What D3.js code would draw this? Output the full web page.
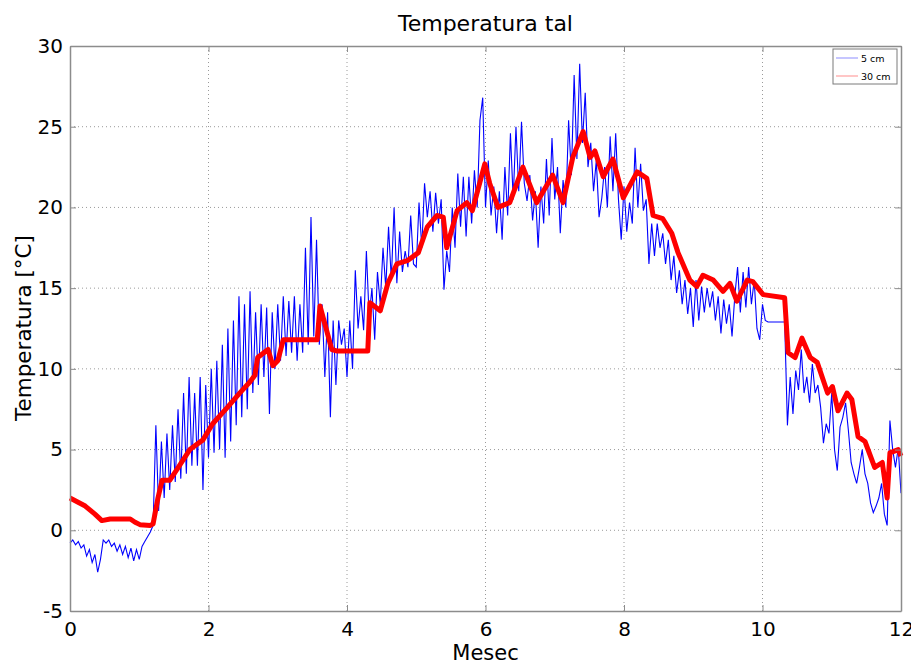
<!DOCTYPE html>
<html>
<head>
<meta charset="utf-8">
<script src="https://d3js.org/d3.v7.min.js"></script>
<style>
  body { margin: 0; background: #fff; }
  text { font-family: "DejaVu Sans", sans-serif; fill: #000; }
</style>
</head>
<body>
<script>
// 5 cm readings, one every 0.04 month starting at month 0 (one row per month)
const monthStart = 0;
const monthStep = 0.04;
const temp5cm = [
  -0.8, -0.6, -0.9, -0.7, -1.1, -0.9, -1.6, -1.2, -2.0, -1.5, -2.6, -1.8, -0.6, -0.8, -0.6, -1.0, -0.8, -1.3, -0.9, -1.5, -1.0, -1.7, -1.1, -1.9, -1.2,
  -1.8, -1.0, -0.7, -0.4, -0.1, 0.3, 6.5, 1.2, 5.5, 2.0, 6.0, 2.5, 6.5, 3.0, 7.5, 3.2, 8.5, 3.5, 9.5, 4.0, 8.5, 4.0, 9.5, 2.5, 9.0,
  4.5, 10.0, 4.8, 10.5, 5.0, 11.5, 4.5, 12.5, 5.5, 13.0, 6.5, 14.5, 7.0, 14.0, 7.5, 14.8, 8.5, 13.5, 9.0, 14.0, 9.5, 13.8, 7.2, 13.5, 10.0,
  14.0, 10.5, 14.5, 10.8, 14.2, 11.0, 14.5, 10.5, 14.0, 11.0, 17.5, 11.5, 19.4, 12.0, 18.0, 11.5, 14.0, 9.5, 13.5, 7.0, 13.0, 9.0, 13.0, 11.5, 12.5,
  9.5, 13.0, 10.0, 16.1, 12.5, 14.5, 12.4, 17.3, 13.2, 15.0, 11.8, 16.0, 14.0, 17.5, 15.0, 18.8, 15.5, 20.0, 15.3, 18.5, 16.0, 17.3, 16.3, 19.5, 16.5,
  16.3, 20.3, 17.5, 21.5, 19.4, 21.0, 18.5, 20.9, 19.0, 20.5, 14.9, 17.3, 16.0, 20.0, 17.5, 22.1, 18.8, 21.9, 18.2, 21.9, 19.0, 22.3, 20.0, 25.4, 26.8,
  20.0, 22.9, 19.5, 21.3, 18.4, 21.0, 18.0, 22.5, 19.5, 24.6, 20.5, 25.0, 21.0, 25.3, 21.5, 20.4, 22.0, 19.2, 21.0, 17.5, 21.3, 19.0, 23.0, 19.5, 24.3,
  20.5, 22.5, 18.4, 21.7, 20.0, 25.4, 22.0, 28.2, 23.0, 28.9, 24.0, 27.1, 22.5, 24.0, 21.0, 22.9, 19.4, 20.6, 22.5, 20.0, 24.4, 21.0, 24.6, 20.5, 18.0,
  21.3, 18.5, 20.3, 19.0, 23.7, 20.0, 22.7, 19.8, 20.5, 16.5, 19.0, 17.0, 19.0, 17.5, 18.4, 16.5, 18.0, 15.5, 17.0, 14.7, 16.1, 14.0, 15.5, 13.4, 15.0,
  12.6, 15.5, 13.0, 15.1, 13.5, 15.0, 13.8, 14.8, 13.0, 14.5, 12.2, 14.3, 12.8, 14.0, 12.0, 14.5, 16.3, 13.5, 16.0, 13.8, 16.3, 14.0, 15.5, 12.5, 11.8,
  14.0, 13.0, 12.9, 12.9, 12.9, 12.9, 12.9, 12.9, 12.9, 6.5, 9.5, 7.2, 9.9, 8.7, 11.2, 8.5, 9.5, 7.9, 10.3, 8.5, 9.0, 7.6, 5.4, 6.6, 6.0,
  8.5, 5.0, 3.7, 6.4, 7.0, 7.9, 6.2, 4.2, 3.5, 2.9, 3.9, 5.0, 3.5, 2.9, 1.7, 1.1, 1.5, 2.0, 2.9, 1.0, 0.3, 6.8, 5.0, 3.9, 5.1,
  2.3
];

// 30 cm readings
const month30cm = [
  0.00, 0.22, 0.36, 0.46, 0.58, 0.87, 0.94, 1.01, 1.16, 1.20, 1.27, 1.33, 1.44, 1.55, 1.73, 1.92,
  2.06, 2.27, 2.45, 2.60, 2.67, 2.71, 2.86, 2.93, 3.00, 3.08, 3.13, 3.57, 3.61, 3.78, 3.86,
  4.30, 4.33, 4.48, 4.59, 4.72, 4.87, 5.03, 5.16, 5.30, 5.39, 5.44, 5.59, 5.73, 5.81, 5.99,
  6.06, 6.18, 6.35, 6.54, 6.74, 6.97, 7.12, 7.26, 7.41, 7.51, 7.58, 7.70, 7.84, 7.99,
  8.19, 8.33, 8.42, 8.56, 8.69, 8.78, 8.95, 9.05, 9.14, 9.29, 9.43, 9.53, 9.63, 9.78, 9.86,
  10.01, 10.32, 10.37, 10.47, 10.57, 10.69, 10.79, 10.94, 11.01, 11.09, 11.22, 11.29, 11.38,
  11.48, 11.62, 11.73, 11.80, 11.84, 11.96, 12.00
];
const temp30cm = [
  2.0, 1.5, 1.0, 0.6, 0.7, 0.7, 0.5, 0.35, 0.3, 0.4, 2.0, 3.1, 3.1, 3.8, 5.0, 5.6,
  6.6, 7.6, 8.5, 9.2, 9.6, 10.7, 11.2, 10.2, 10.5, 11.8, 11.8, 11.8, 13.9, 11.2, 11.1,
  11.1, 14.1, 13.6, 15.3, 16.5, 16.7, 17.2, 18.8, 19.5, 19.4, 17.5, 19.8, 20.3, 19.8, 22.7,
  21.5, 20.0, 20.3, 22.5, 20.3, 22.0, 20.3, 23.1, 24.7, 23.1, 23.5, 21.9, 23.0, 20.6,
  22.2, 21.8, 19.5, 19.3, 18.4, 17.2, 15.5, 15.1, 15.8, 15.5, 14.8, 15.3, 14.2, 15.5, 15.4,
  14.6, 14.4, 11.0, 10.7, 11.9, 10.7, 10.4, 8.5, 8.9, 7.4, 8.5, 8.1, 5.8,
  5.5, 3.9, 4.2, 2.0, 4.8, 5.0, 4.6
];

const xTicks = [0, 2, 4, 6, 8, 10, 12];
const yTicks = [-5, 0, 5, 10, 15, 20, 25, 30];
const seriesNames = ['5 cm', '30 cm'];
const seriesColors = ['#0000ff', '#ff0000'];

const margin = { top: 46, right: 10, bottom: 52, left: 70 };
const width = 911 - margin.left - margin.right;
const height = 663 - margin.top - margin.bottom;

const svg = d3.select('body')
  .append('svg')
  .attr('width', 911)
  .attr('height', 663);

const g = svg.append('g')
  .attr('transform', `translate(${margin.left},${margin.top})`);

const x = d3.scaleLinear().domain([0, 12]).range([0, width]);
const y = d3.scaleLinear().domain([-5, 30]).range([height, 0]);

// dotted grid
g.append('g').selectAll('line')
  .data(xTicks.slice(1, -1))
  .join('line')
  .attr('x1', d => x(d)).attr('x2', d => x(d))
  .attr('y1', 0).attr('y2', height)
  .attr('stroke', '#9a9a9a')
  .attr('stroke-width', 1)
  .attr('stroke-dasharray', '1,3');

g.append('g').selectAll('line')
  .data(yTicks.slice(1, -1))
  .join('line')
  .attr('x1', 0).attr('x2', width)
  .attr('y1', d => y(d)).attr('y2', d => y(d))
  .attr('stroke', '#9a9a9a')
  .attr('stroke-width', 1)
  .attr('stroke-dasharray', '1,3');

// series
const data5 = temp5cm.map((v, i) => [monthStart + i * monthStep, v]);
const data30 = month30cm.map((m, i) => [m, temp30cm[i]]);

const line = d3.line().x(d => x(d[0])).y(d => y(d[1]));

g.append('path')
  .datum(data5)
  .attr('fill', 'none')
  .attr('stroke', seriesColors[0])
  .attr('stroke-width', 1.1)
  .attr('d', line);

g.append('path')
  .datum(data30)
  .attr('fill', 'none')
  .attr('stroke', seriesColors[1])
  .attr('stroke-width', 5)
  .attr('stroke-linejoin', 'round')
  .attr('d', line);

// axes (ticks inside, mirrored on all sides)
const axisColor = '#8c8c8c';
function styleAxis(sel) {
  sel.select('.domain').attr('stroke', axisColor).attr('stroke-width', 1.5);
  sel.selectAll('.tick line').attr('stroke', axisColor);
}
const plainNumber = d => String(d);

g.append('g')
  .attr('transform', `translate(0,${height})`)
  .call(d3.axisBottom(x).tickValues(xTicks).tickFormat(plainNumber).tickSizeInner(-6).tickSizeOuter(0).tickPadding(11))
  .call(styleAxis)
  .call(a => a.selectAll('text').attr('font-size', 20).attr('font-family', '"DejaVu Sans", sans-serif').attr('fill', '#000'));

g.append('g')
  .call(d3.axisLeft(y).tickValues(yTicks).tickFormat(plainNumber).tickSizeInner(-6).tickSizeOuter(0).tickPadding(7))
  .call(styleAxis)
  .call(a => a.selectAll('text').attr('font-size', 20).attr('font-family', '"DejaVu Sans", sans-serif').attr('fill', '#000'));

g.append('g')
  .call(d3.axisTop(x).tickValues(xTicks).tickSizeInner(-6).tickSizeOuter(0).tickFormat(''))
  .call(styleAxis);

g.append('g')
  .attr('transform', `translate(${width},0)`)
  .call(d3.axisRight(y).tickValues(yTicks).tickSizeInner(-6).tickSizeOuter(0).tickFormat(''))
  .call(styleAxis);

// titles
svg.append('text')
  .attr('x', margin.left + width / 2)
  .attr('y', 31)
  .attr('text-anchor', 'middle')
  .attr('font-size', 22)
  .text('Temperatura tal');

svg.append('text')
  .attr('x', margin.left + width / 2)
  .attr('y', 660)
  .attr('text-anchor', 'middle')
  .attr('font-size', 21)
  .text('Mesec');

svg.append('text')
  .attr('transform', `translate(31,${margin.top + 282}) rotate(-90)`)
  .attr('text-anchor', 'middle')
  .attr('font-size', 21.5)
  .text('Temperatura [°C]');

// legend
const legend = g.append('g')
  .attr('transform', `translate(${width - 68},3)`);

legend.append('rect')
  .attr('width', 64)
  .attr('height', 35)
  .attr('fill', '#fff')
  .attr('stroke', '#7a7a7a');

seriesNames.forEach((name, i) => {
  legend.append('line')
    .attr('x1', 3).attr('x2', 25)
    .attr('y1', 9 + i * 18).attr('y2', 9 + i * 18)
    .attr('stroke', seriesColors[i])
    .attr('stroke-opacity', 0.45)
    .attr('stroke-width', 1);
  legend.append('text')
    .attr('x', 28)
    .attr('y', 12.5 + i * 18)
    .attr('font-size', 9.5)
    .text(name);
});
</script>
</body>
</html>
